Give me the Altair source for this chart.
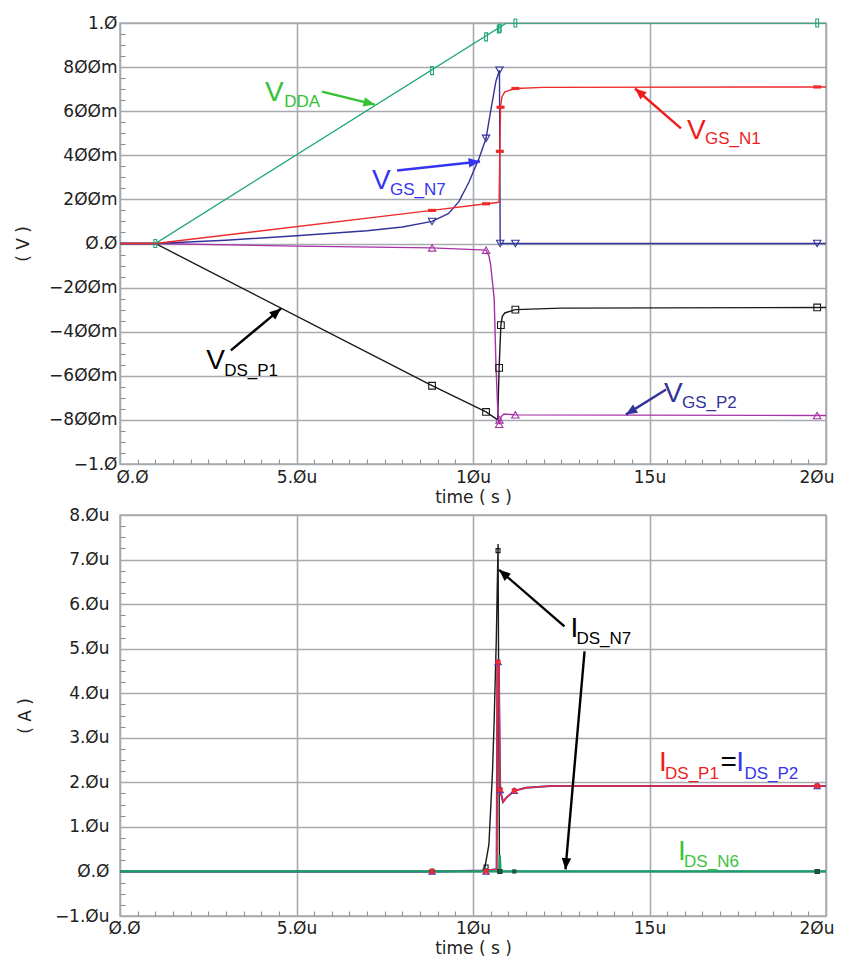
import math
import altair as alt
import pandas as pd

# ---------------- top panel: voltages (time in µs, volts) ----------------
vdda_t = [0.0, 1.0, 10.95, 20.0]
vdda_v = [0.0, 0.0, 1.0, 1.0]
vdda_mt = [1.0, 8.84, 10.37, 10.73, 10.76, 11.2, 19.75]
vdda_mv = [0.0, 0.784, 0.937, 0.973, 0.976, 1.0, 1.0]

n1_t = [0.0, 1.0, 8.84, 10.37, 10.70, 10.74, 10.76, 10.78, 10.82, 10.9, 11.2, 12.0, 20.0]
n1_v = [0.0, 0.0, 0.15, 0.18, 0.186, 0.19, 0.418, 0.618, 0.665, 0.688, 0.703, 0.708, 0.71]
n1_mt = [8.84, 10.37, 10.76, 10.78, 11.2, 19.75]
n1_mv = [0.15, 0.18, 0.418, 0.618, 0.703, 0.71]

n7_t = [0.0, 1.0, 3.0, 5.0, 7.0, 8.0, 8.84, 9.3, 9.6, 9.89, 10.17, 10.37, 10.5, 10.65, 10.75, 10.77, 20.0]
n7_v = [0.0, 0.0, 0.015, 0.035, 0.058, 0.075, 0.10, 0.135, 0.19, 0.28, 0.386, 0.477, 0.60, 0.736, 0.786, 0.0, 0.0]
n7_mt = [8.84, 10.37, 10.75, 10.77, 11.2, 19.75]
n7_mv = [0.10, 0.477, 0.786, 0.0, 0.0, 0.0]

p2_t = [0.0, 1.0, 5.0, 8.84, 10.37, 10.45, 10.5, 10.6, 10.65, 10.7, 10.74, 10.8, 10.88, 11.2, 20.0]
p2_v = [0.0, 0.0, -0.012, -0.02, -0.03, -0.055, -0.097, -0.25, -0.55, -0.75, -0.82, -0.785, -0.773, -0.777, -0.78]
p2_mt = [8.84, 10.37, 10.74, 10.75, 11.2, 19.75]
p2_mv = [-0.02, -0.03, -0.82, -0.80, -0.777, -0.78]

p1_t = [0.0, 1.0, 8.84, 10.37, 10.70, 10.74, 10.79, 10.83, 10.9, 11.2, 12.5, 20.0]
p1_v = [0.0, 0.0, -0.645, -0.764, -0.80, -0.564, -0.37, -0.33, -0.315, -0.30, -0.293, -0.29]
p1_mt = [8.84, 10.37, 10.74, 10.79, 11.2, 19.75]
p1_mv = [-0.645, -0.764, -0.564, -0.37, -0.30, -0.29]

# ---------------- bottom panel: currents (time in µs, µA) ----------------
in7_t = [0.0, 10.25, 10.34, 10.45, 10.55, 10.6, 10.66, 10.71, 10.75, 20.0]
in7_i = [0.0, 0.0, 0.1, 0.6, 2.2, 3.4, 5.2, 7.35, 0.0, 0.0]
in7_mt = [8.84, 10.37, 10.71, 10.76, 19.75]
in7_mi = [0.0, 0.1, 7.2, 0.0, 0.0]

ip_t = [0.0, 8.84, 10.37, 10.67, 10.69, 10.73, 10.77, 10.85, 10.95, 11.17, 11.5, 12.2, 20.0]
ip_i = [0.0, 0.0, 0.02, 0.05, 4.7, 4.7, 1.83, 1.56, 1.66, 1.81, 1.88, 1.92, 1.92]
ip_mt = [8.84, 10.37, 10.71, 10.77, 11.17, 19.75]
ip_mi = [0.0, 0.0, 4.7, 1.83, 1.81, 1.92]

in6_t = [0.0, 10.74, 10.76, 10.78, 20.0]
in6_i = [0.0, 0.0, 0.36, 0.0, 0.0]
in6_mt = [10.77, 11.17, 19.75]
in6_mi = [0.0, 0.0, 0.0]

# ---------------- axis tick labels ----------------
x_major = [0, 5, 10, 15, 20]
x_labels = ["Ø.Ø", "5.Øu", "1Øu", "15u", "2Øu"]
v_major = [-1.0, -0.8, -0.6, -0.4, -0.2, 0.0, 0.2, 0.4, 0.6, 0.8, 1.0]
v_labels = ["−1.Ø", "−8ØØm", "−6ØØm", "−4ØØm", "−2ØØm", "Ø.Ø", "2ØØm", "4ØØm", "6ØØm", "8ØØm", "1.Ø"]
i_major = [-1, 0, 1, 2, 3, 4, 5, 6, 7, 8]
i_labels = ["−1.Øu", "Ø.Ø", "1.Øu", "2.Øu", "3.Øu", "4.Øu", "5.Øu", "6.Øu", "7.Øu", "8.Øu"]

x_ticks = [round(0.5 * k, 2) for k in range(41)]
v_ticks = [round(-1 + 0.05 * k, 2) for k in range(41)]
i_ticks = [round(-1 + 0.25 * k, 2) for k in range(37)]

# ---------------- annotations (data coordinates) ----------------
# (x, y, text, color, fontsize)
top_text = [
    (4.11, 0.644, "V", "#35c235", 28), (4.65, 0.617, "DDA", "#35c235", 17),
    (7.14, 0.249, "V", "#3535f0", 28), (7.65, 0.222, "GS_N7", "#3535f0", 17),
    (16.06, 0.476, "V", "#ee1c1c", 28), (16.57, 0.449, "GS_N1", "#ee1c1c", 17),
    (2.44, -0.571, "V", "#000000", 28), (2.95, -0.603, "DS_P1", "#000000", 17),
    (15.41, -0.717, "V", "#333399", 28), (15.92, -0.748, "GS_P2", "#333399", 17),
]
top_arrows = [
    (5.72, 0.689, 7.22, 0.630, "#35c235"),
    (7.85, 0.331, 10.20, 0.372, "#3535f0"),
    (15.89, 0.522, 14.59, 0.703, "#ee1c1c"),
    (3.14, -0.485, 4.56, -0.295, "#000000"),
    (15.47, -0.662, 14.33, -0.776, "#333399"),
]
bot_text = [
    (12.76, 5.26, "I", "#000000", 28), (12.93, 5.10, "DS_N7", "#000000", 17),
    (15.27, 2.25, "I", "#ee1c1c", 28), (15.44, 2.07, "DS_P1", "#ee1c1c", 17),
    (17.01, 2.25, "=", "#000000", 28),
    (17.46, 2.25, "I", "#3535f0", 28), (17.69, 2.07, "DS_P2", "#3535f0", 17),
    (15.81, 0.267, "I", "#3cc43c", 28), (15.98, 0.089, "DS_N6", "#3cc43c", 17),
]
bot_arrows = [
    (12.59, 5.50, 10.74, 6.77, "#000000"),
    (13.16, 4.94, 12.62, 0.045, "#000000"),
]

# ---------------- styling ----------------
W = 706
H_TOP = 441
H_BOT = 401
GRID = "#a6aaae"
TICK = "#8e9296"
TL = 5
FONT_AX = "DejaVu Sans"
FONT_ANN = "Liberation Sans"
ARROW = "M0,0 L0.42,1 L-0.42,1 Z"
VRECT = "M-0.35,-1 L0.35,-1 L0.35,1 L-0.35,1 Z"
HRECT = "M-1,-0.4 L1,-0.4 L1,0.4 L-1,0.4 Z"


def lab_expr(vals, labs):
    parts = [f"abs(datum.value - ({v})) < 1e-9 ? '{l}'" for v, l in zip(vals, labs)]
    return " : ".join(parts) + " : ''"


def make_axis(values, vals, labs, major_test, title, orient, dash_minor, dash_offset, lab_pad, title_pad,
              first_offset=0):
    extra = {}
    if orient == "bottom":
        extra["labelAlign"] = {"condition": {"test": "datum.value >= 19.99", "value": "right"}, "value": "center"}
        extra["labelOffset"] = {
            "condition": [
                {"test": "datum.value >= 19.99", "value": 8},
                {"test": "datum.value <= 0.01", "value": first_offset},
            ],
            "value": 0,
        }
    return alt.Axis(
        values=values,
        labelExpr=lab_expr(vals, labs),
        ticks=False,
        domain=False,
        grid=True,
        gridColor={"condition": {"test": major_test, "value": GRID}, "value": TICK},
        gridWidth={"condition": {"test": major_test, "value": 1.6}, "value": 1.1},
        gridDash={"condition": {"test": major_test, "value": [1, 0]}, "value": dash_minor},
        gridDashOffset=dash_offset,
        labelOverlap=False,
        labelFlush=False,
        labelFont=FONT_AX,
        labelFontSize=17,
        labelColor="#222222",
        labelPadding=lab_pad,
        labelAngle=0,
        title=title,
        titleFont=FONT_AX,
        titleFontSize=17,
        titleFontWeight="normal",
        titleColor="#222222",
        titlePadding=title_pad,
        orient=orient,
        **extra,
    )


x_test = "abs(datum.value / 5 - round(datum.value / 5)) < 1e-6"
v_test = "abs(datum.value * 5 - round(datum.value * 5)) < 1e-6"
i_test = "abs(datum.value - round(datum.value)) < 1e-6"

xaxis_top = make_axis(x_ticks, x_major, x_labels, x_test, "time ( s )", "bottom", [TL, H_TOP - TL], TL, 5, 4,
                      first_offset=12)
xaxis_bot = make_axis(x_ticks, x_major, x_labels, x_test, "time ( s )", "bottom", [TL, H_BOT - TL], TL, 4, 4,
                      first_offset=4)
yaxis_top = make_axis(v_ticks, v_major, v_labels, v_test, "( V )", "left", [TL, W + 10], 0, 3, 16)
yaxis_bot = make_axis(i_ticks, i_major, i_labels, i_test, "( A )", "left", [TL, W + 10], 0, 11, 20)

xs = alt.Scale(domain=[0, 20], nice=False, zero=False)
vs = alt.Scale(domain=[-1, 1], nice=False, zero=False)
is_ = alt.Scale(domain=[-1, 8], nice=False, zero=False)


def sdf(t, v):
    return pd.DataFrame({"t": t, "v": v, "i": list(range(len(t)))})


def enc(ch, xa, ya, ys):
    return ch.encode(x=alt.X("t:Q", scale=xs, axis=xa), y=alt.Y("v:Q", scale=ys, axis=ya))


def line(t, v, color, xa, ya, ys, width=1.4):
    ch = alt.Chart(sdf(t, v)).mark_line(color=color, strokeWidth=width, clip=True)
    return enc(ch, xa, ya, ys).encode(order="i:Q")


def marks(t, v, shape, color, size, filled, xa, ya, ys, angle=0):
    ch = alt.Chart(sdf(t, v)).mark_point(shape=shape, color=color, size=size, filled=filled,
                                         opacity=1, strokeWidth=1.1, angle=angle)
    return enc(ch, xa, ya, ys)


def texts(rows, xa, ya, ys):
    df = pd.DataFrame(rows, columns=["t", "v", "txt", "col", "fs"])
    ch = alt.Chart(df).mark_text(align="left", baseline="alphabetic", font=FONT_ANN)
    return enc(ch, xa, ya, ys).encode(text="txt:N", color=alt.Color("col:N", scale=None),
                                      size=alt.Size("fs:Q", scale=None))


def arrows(rows, xa, ya, ys, ppx, ppy):
    df = pd.DataFrame(rows, columns=["t", "v", "t2", "v2", "col"])
    df["ang"] = [
        math.degrees(math.atan2((r.t2 - r.t) * ppx, (r.v2 - r.v) * ppy)) % 360 for r in df.itertuples()
    ]
    shaft = enc(alt.Chart(df).mark_rule(strokeWidth=2.4), xa, ya, ys).encode(
        x2="t2:Q", y2="v2:Q", color=alt.Color("col:N", scale=None))
    head = alt.Chart(df).mark_point(shape=ARROW, filled=True, size=520, opacity=1).encode(
        x=alt.X("t2:Q", scale=xs, axis=xa), y=alt.Y("v2:Q", scale=ys, axis=ya),
        angle=alt.Angle("ang:Q", scale=None), color=alt.Color("col:N", scale=None))
    return [shaft, head]


A = (xaxis_top, yaxis_top, vs)
top_layers = [
    line(vdda_t, vdda_v, "#1fa774", *A),
    line(p1_t, p1_v, "#1a1a1a", *A),
    line(p2_t, p2_v, "#a832a8", *A),
    line(n7_t, n7_v, "#33339a", *A),
    line(n1_t, n1_v, "#ee2b2b", *A),
    marks(vdda_mt, vdda_mv, VRECT, "#1fa774", 64, False, *A),
    marks(p1_mt, p1_mv, "square", "#1a1a1a", 45, False, *A),
    marks(p2_mt, p2_mv, "triangle-up", "#a832a8", 55, False, *A),
    marks(n7_mt, n7_mv, "triangle-down", "#33339a", 55, False, *A),
    marks(n1_mt, n1_mv, HRECT, "#ee2b2b", 64, True, *A),
    texts(top_text, *A),
] + arrows(top_arrows, *A, W / 20, H_TOP / 2)

B = (xaxis_bot, yaxis_bot, is_)
bot_layers = [
    line(in7_t, in7_i, "#1a1a1a", *B),
    line(ip_t, ip_i, "#3a3adc", *B, width=2.0),
    line(ip_t, ip_i, "#ee2b2b", *B, width=1.5),
    line(in6_t, in6_i, "#17a06e", *B, width=2.2),
    marks(in7_mt, in7_mi, "square", "#1a1a1a", 16, False, *B),
    marks(ip_mt, ip_mi, "triangle-up", "#3a3adc", 40, False, *B),
    marks(ip_mt, ip_mi, "cross", "#ee2b2b", 40, True, *B, angle=45),
    marks(in6_mt, in6_mi, "square", "#1a5a40", 18, True, *B),
    texts(bot_text, *B),
] + arrows(bot_arrows, *B, W / 20, H_BOT / 9)

top = alt.layer(*top_layers).properties(width=W, height=H_TOP)
bottom = alt.layer(*bot_layers).properties(width=W, height=H_BOT)

chart = (
    alt.vconcat(top, bottom, spacing=-1)
    .properties(padding={"left": 5, "top": 5, "right": 0, "bottom": 0}, background="white")
    .configure_view(stroke=GRID, strokeWidth=1.5)
)

chart.save("out.html", embed_options={"renderer": "svg", "actions": False})
